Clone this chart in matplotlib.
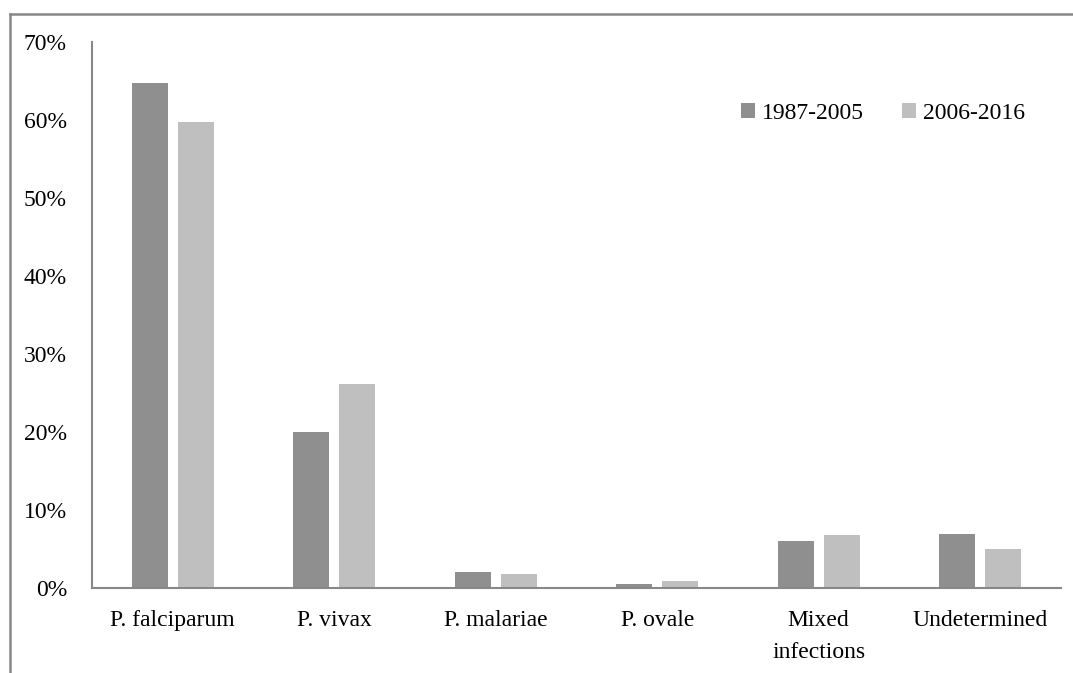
import matplotlib.pyplot as plt
from matplotlib.lines import Line2D
import numpy as np

plt.rcParams['font.family'] = ['Liberation Serif', 'DejaVu Serif']

species = ['P. falciparum', 'P. vivax', 'P. malariae', 'P. ovale', 'Mixed\ninfections', 'Undetermined']
period1 = [64.7, 20.0, 2.0, 0.5, 6.0, 6.9]   # 1987-2005
period2 = [59.7, 26.1, 1.8, 0.9, 6.8, 5.0]   # 2006-2016
labels = ['1987-2005', '2006-2016']
yticks = [0, 10, 20, 30, 40, 50, 60, 70]

fig = plt.figure(figsize=(10.73, 6.73), dpi=100)
ax = fig.add_axes([0.0857, 0.1263, 0.9031, 0.8113])

x = np.arange(len(species))
w = 0.223
off = 0.1425
ax.bar(x - off, period1, w, color='#8f8f8f', label=labels[0])
ax.bar(x + off, period2, w, color='#bfbfbf', label=labels[1])

ax.set_xlim(-0.5, len(species) - 0.5)
ax.set_ylim(0, 70)
ax.set_yticks(yticks)
ax.set_yticklabels([f'{v}%' for v in yticks])
ax.set_xticks(x)
ax.set_xticklabels(species, linespacing=1.7)
ax.tick_params(axis='y', length=0, pad=18, labelsize=17)
ax.tick_params(axis='x', length=0, pad=16, labelsize=17)

for s in ['top', 'right']:
    ax.spines[s].set_visible(False)
for s in ['left', 'bottom']:
    ax.spines[s].set_color('#888888')
    ax.spines[s].set_linewidth(1.5)

ax.legend(loc='upper right', bbox_to_anchor=(0.985, 0.928), ncol=2, frameon=False,
          fontsize=17, handlelength=0.6, handleheight=0.6, handletextpad=0.3,
          columnspacing=1.6)

# outer frame (top and left edges)
fig.add_artist(Line2D([10 / 1073, 1], [1 - 14 / 673, 1 - 14 / 673], color='#888888', lw=1.8,
                      transform=fig.transFigure))
fig.add_artist(Line2D([10 / 1073, 10 / 1073], [0, 1 - 14 / 673], color='#888888', lw=1.8,
                      transform=fig.transFigure))

fig.savefig('out.png', dpi=100)
